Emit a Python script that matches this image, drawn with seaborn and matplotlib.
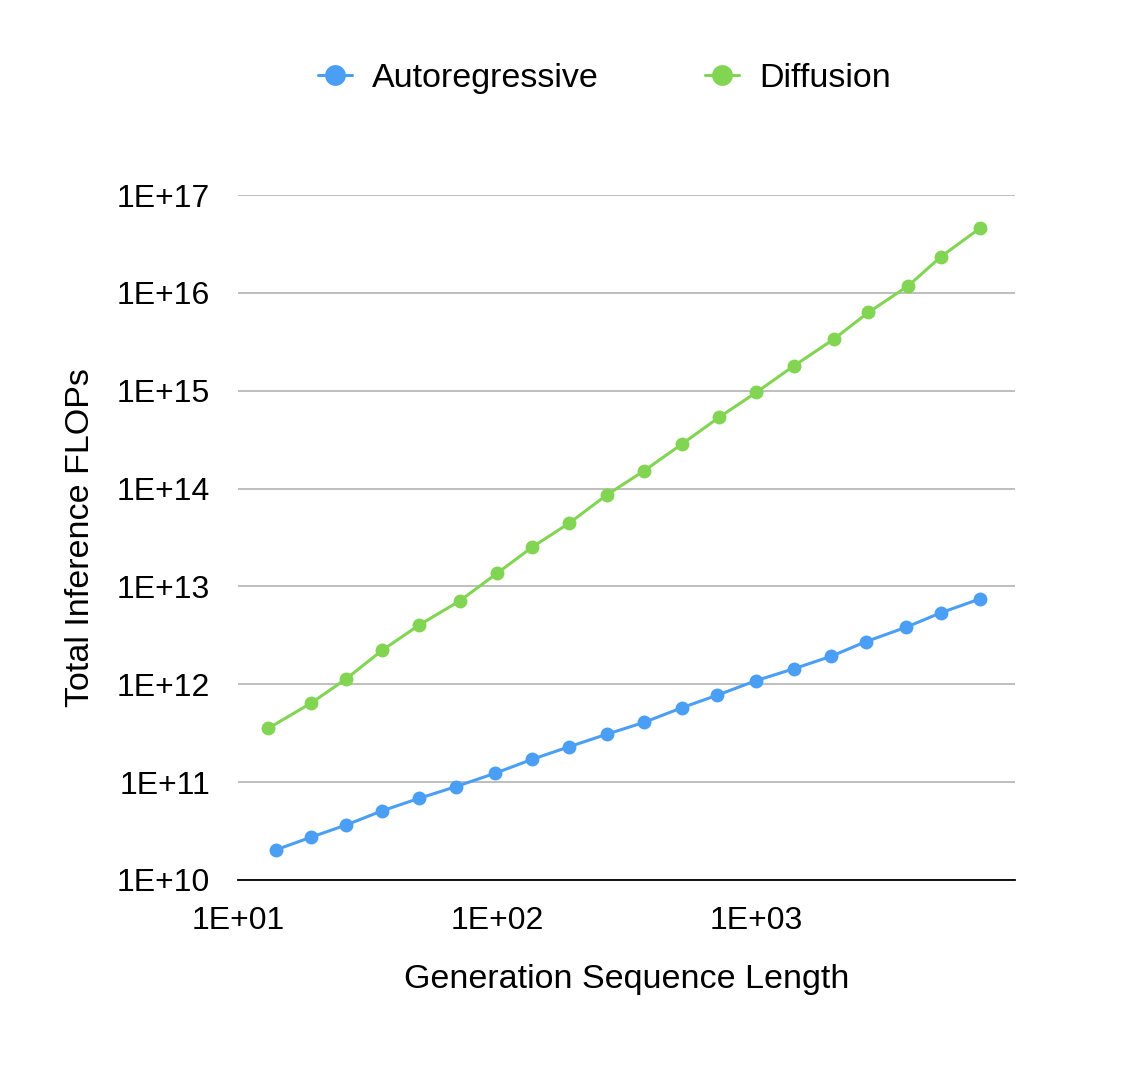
import numpy as np
import pandas as pd
import matplotlib
matplotlib.use("Agg")
import matplotlib.pyplot as plt
import matplotlib.ticker as mticker
from matplotlib.lines import Line2D
import seaborn as sns

# values
ar_len = [14.0, 19.1, 26.1, 36.1, 50.1, 69.3, 98.2, 136.8, 190, 265,
          370, 517, 705, 1002, 1400, 1950, 2652, 3784, 5166, 7345]
ar_flops = [2.03e10, 2.73e10, 3.64e10, 5.1e10, 6.83e10, 8.98e10, 1.23e11, 1.71e11, 2.30e11, 3.08e11,
            4.08e11, 5.75e11, 7.7e11, 1.09e12, 1.44e12, 1.93e12, 2.72e12, 3.81e12, 5.37e12, 7.47e12]

diff_len = [13.1, 19.1, 26.1, 36.1, 50.1, 71.9, 100, 136.8, 190, 265,
            370, 517, 719, 1002, 1400, 1996, 2715, 3873, 5166, 7345]
diff_flops = [3.55e11, 6.39e11, 1.13e12, 2.23e12, 4.03e12, 7.13e12, 1.36e13, 2.52e13, 4.43e13, 8.57e13,
              1.52e14, 2.84e14, 5.33e14, 9.6e14, 1.79e15, 3.36e15, 6.3e15, 1.18e16, 2.33e16, 4.6e16]

series_names = ["Autoregressive", "Diffusion"]
colors = {"Autoregressive": "#4a9ff5", "Diffusion": "#82d552"}

df = pd.concat([
    pd.DataFrame({"length": ar_len, "flops": ar_flops, "series": "Autoregressive"}),
    pd.DataFrame({"length": diff_len, "flops": diff_flops, "series": "Diffusion"}),
])

sns.set_style("white")
plt.rcParams["font.family"] = ["Liberation Sans", "DejaVu Sans"]
plt.rcParams.update({"text.color": "black", "axes.labelcolor": "black",
                     "xtick.color": "black", "ytick.color": "black"})

fig = plt.figure(figsize=(11.32, 10.78), dpi=100)
ax = fig.add_axes([0.2102, 0.1837, 0.6864, 0.6354])

sns.lineplot(data=df, x="length", y="flops", hue="series", hue_order=series_names,
             palette=colors, marker="o", markersize=10, markeredgewidth=0,
             linewidth=2.2, sort=False, legend=False, ax=ax)

ax.set_xscale("log")
ax.set_yscale("log")
ax.set_xlim(10, 1e4)
ax.set_ylim(1e10, 1e17)
ax.set_xticks([1e1, 1e2, 1e3])
ax.set_yticks([10.0 ** k for k in range(10, 18)])
ax.xaxis.set_minor_locator(mticker.NullLocator())
ax.yaxis.set_minor_locator(mticker.NullLocator())
fmt = mticker.FuncFormatter(lambda v, _: f"1E+{int(round(np.log10(v))):02d}")
ax.xaxis.set_major_formatter(fmt)
ax.yaxis.set_major_formatter(fmt)
ax.tick_params(axis="x", length=0, pad=19, labelsize=23)
ax.tick_params(axis="y", length=0, pad=20, labelsize=23)

ax.grid(axis="y", color="#b3b3b3", linewidth=1.2)
ax.grid(axis="x", visible=False)
for side in ["left", "right", "top"]:
    ax.spines[side].set_visible(False)
ax.spines["bottom"].set_color("black")
ax.spines["bottom"].set_linewidth(1.3)
ax.set_axisbelow(True)

ax.set_xlabel("Generation Sequence Length", fontsize=24.5, labelpad=20)
ax.set_ylabel("Total Inference FLOPs", fontsize=24.5, labelpad=15)

handles = [Line2D([], [], color=colors[n], marker="o", markersize=15,
                  markeredgewidth=0, linewidth=2.2) for n in series_names]
fig.legend(handles, series_names, loc="center", bbox_to_anchor=(0.534, 0.927),
           ncol=2, frameon=False, fontsize=24.5, handlelength=1.0,
           columnspacing=3.1, handletextpad=0.6)

fig.savefig("out.png", dpi=100)
